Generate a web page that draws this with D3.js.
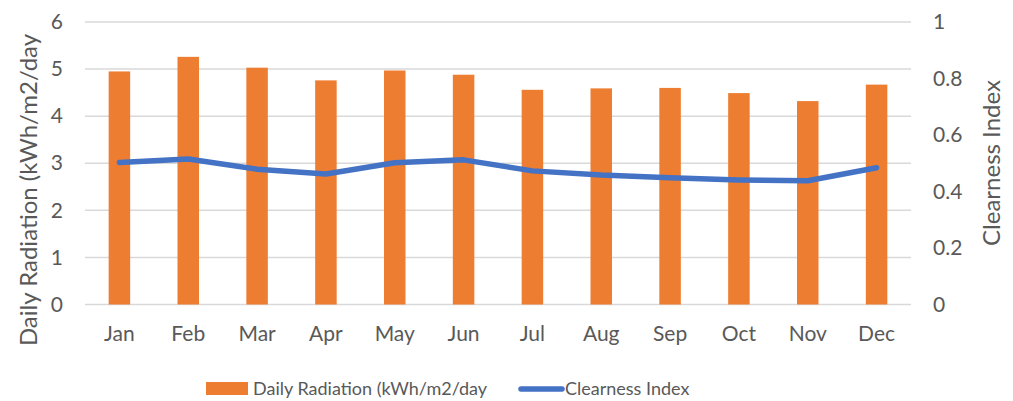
<!DOCTYPE html>
<html>
<head>
<meta charset="utf-8">
<script src="https://cdn.jsdelivr.net/npm/d3@7"></script>
<style>
  body { margin: 0; background: #fff; }
  text { font-family: Lato, "Open Sans", sans-serif; fill: #595959; }
</style>
</head>
<body>
<div id="chart"></div>
<script>
// months on the x axis
var months = ["Jan", "Feb", "Mar", "Apr", "May", "Jun", "Jul", "Aug", "Sep", "Oct", "Nov", "Dec"];
// daily radiation, kWh/m2/day (bars, left axis)
var radiation = [4.95, 5.26, 5.03, 4.76, 4.97, 4.88, 4.56, 4.59, 4.60, 4.49, 4.32, 4.67];
// clearness index (line, right axis)
var clearness = [0.503, 0.515, 0.479, 0.462, 0.502, 0.512, 0.473, 0.458, 0.449, 0.441, 0.438, 0.484];
var leftTicks = [0, 1, 2, 3, 4, 5, 6];
var rightTicks = [0, 0.2, 0.4, 0.6, 0.8, 1];

function init() {
    var w = 1013, h = 401;
    var left = 85, right = 911, top = 22, bottom = 304.5;

    var svg = d3.select("#chart").append("svg")
        .attr("width", w)
        .attr("height", h);

    var x = d3.scaleBand().domain(months).range([left, right]);
    var y = d3.scaleLinear().domain([0, 6]).range([bottom, top]);
    var y2 = d3.scaleLinear().domain([0, 1]).range([bottom, top]);

    //gridlines
    svg.append("g")
        .selectAll("line")
        .data(leftTicks)
        .enter()
        .append("line")
        .attr("x1", left).attr("x2", right)
        .attr("y1", function(d) { return y(d); })
        .attr("y2", function(d) { return y(d); })
        .attr("stroke", "#d9d9d9")
        .attr("stroke-width", 1.5);

    //bars
    var bw = 21.5;
    svg.append("g")
        .selectAll("rect")
        .data(radiation)
        .enter()
        .append("rect")
        .attr("x", function(d, i) { return x(months[i]) + x.bandwidth() / 2 - bw / 2; })
        .attr("y", function(d) { return y(d); })
        .attr("width", bw)
        .attr("height", function(d) { return y(0) - y(d); })
        .attr("fill", "#ED7D31");

    //line
    var line = d3.line()
        .x(function(d, i) { return x(months[i]) + x.bandwidth() / 2; })
        .y(function(d) { return y2(d); });

    svg.append("path")
        .datum(clearness)
        .attr("d", line)
        .attr("fill", "none")
        .attr("stroke", "#4472C4")
        .attr("stroke-width", 5.5)
        .attr("stroke-linecap", "round")
        .attr("stroke-linejoin", "round");

    //left axis
    var yAxis = d3.axisLeft(y).tickValues(leftTicks).tickSize(0).tickPadding(0)
        .tickFormat(d3.format("d"));
    var gy = svg.append("g")
        .attr("transform", "translate(" + 63 + ",0)")
        .call(yAxis);
    gy.select(".domain").remove();
    gy.selectAll("text").attr("font-size", "21px").attr("fill", "#595959")
        .style("font-family", "Lato, sans-serif");

    //right axis
    var y2Axis = d3.axisRight(y2).tickValues(rightTicks).tickSize(0).tickPadding(0)
        .tickFormat(function(d) { return d3.format("")(+d.toFixed(1)); });
    var gy2 = svg.append("g")
        .attr("transform", "translate(" + 933 + ",0)")
        .call(y2Axis);
    gy2.select(".domain").remove();
    gy2.selectAll("text").attr("font-size", "21px").attr("fill", "#595959")
        .style("font-family", "Lato, sans-serif");

    //x axis
    var xAxis = d3.axisBottom(x).tickSize(0).tickPadding(0);
    var gx = svg.append("g")
        .attr("transform", "translate(0," + 326 + ")")
        .call(xAxis);
    gx.select(".domain").remove();
    gx.selectAll("text").attr("font-size", "21px").attr("fill", "#595959")
        .style("font-family", "Lato, sans-serif");

    //axis titles
    svg.append("text")
        .attr("transform", "translate(37," + 190 + ") rotate(-90)")
        .attr("text-anchor", "middle")
        .attr("font-size", "24px")
        .text("Daily Radiation (kWh/m2/day");

    svg.append("text")
        .attr("transform", "translate(1000," + 163 + ") rotate(-90)")
        .attr("text-anchor", "middle")
        .attr("font-size", "24px")
        .text("Clearness Index");

    //legend
    var lg = svg.append("g").attr("font-size", "18px");
    lg.append("rect")
        .attr("x", 206).attr("y", 382).attr("width", 42).attr("height", 13)
        .attr("fill", "#ED7D31");
    lg.append("text")
        .attr("x", 253).attr("y", 395)
        .text("Daily Radiation (kWh/m2/day");
    lg.append("line")
        .attr("x1", 521).attr("x2", 562).attr("y1", 389).attr("y2", 389)
        .attr("stroke", "#4472C4").attr("stroke-width", 5.5)
        .attr("stroke-linecap", "round");
    lg.append("text")
        .attr("x", 565).attr("y", 395)
        .text("Clearness Index");
}

window.onload = init;
</script>
</body>
</html>
